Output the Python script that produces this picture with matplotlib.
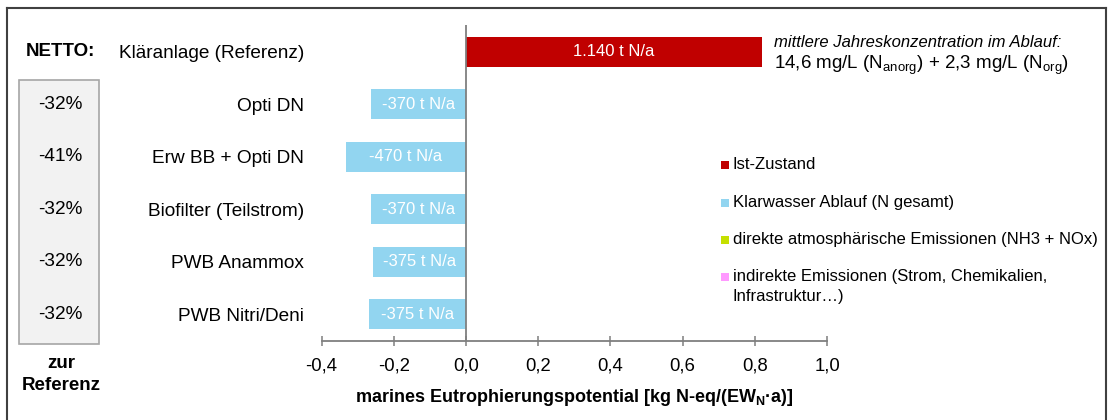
import numpy as np
import matplotlib
matplotlib.use("Agg")
import matplotlib.pyplot as plt
from matplotlib.patches import Rectangle
from matplotlib.lines import Line2D
from matplotlib.transforms import blended_transform_factory

plt.rcParams['font.family'] = ['Liberation Sans', 'DejaVu Sans']
plt.rcParams['mathtext.fontset'] = 'custom'
plt.rcParams['mathtext.rm'] = 'Liberation Sans'
plt.rcParams['mathtext.it'] = 'Liberation Sans:italic'
plt.rcParams['mathtext.bf'] = 'Liberation Sans:bold'

# data
categories = ['Kläranlage (Referenz)', 'Opti DN', 'Erw BB + Opti DN',
              'Biofilter (Teilstrom)', 'PWB Anammox', 'PWB Nitri/Deni']
values = [0.82, -0.262, -0.333, -0.263, -0.259, -0.27]
bar_labels = ['1.140 t N/a', '-370 t N/a', '-470 t N/a', '-370 t N/a',
              '-375 t N/a', '-375 t N/a']
netto = ['', '-32%', '-41%', '-32%', '-32%', '-32%']
xticks = [-0.4, -0.2, 0.0, 0.2, 0.4, 0.6, 0.8, 1.0]
legend_labels = ['Ist-Zustand', 'Klarwasser Ablauf (N gesamt)',
                 'direkte atmosphärische Emissionen (NH3 + NOx)',
                 'indirekte Emissionen (Strom, Chemikalien,\nInfrastruktur…)']
legend_colors = ['#C00000', '#92D5F0', '#C5E000', '#FF99FF']

W, H = 1108, 420
fig = plt.figure(figsize=(W / 100, H / 100), dpi=100)
ax = fig.add_axes([321.6 / W, (H - 340.7) / H, 505.4 / W, (340.7 - 25) / H])

colors = [legend_colors[0]] + [legend_colors[1]] * (len(values) - 1)
y = np.arange(len(categories))
bars = ax.barh(y, values, height=0.566, color=colors)
ax.bar_label(bars, labels=bar_labels, label_type='center', color='white', fontsize=12)

ax.set_xlim(-0.4, 1.0)
ax.set_ylim(5.505, -0.509)
ax.set_xticks(xticks)
ax.set_xticklabels([f'{t:.1f}'.replace('.', ',') for t in xticks], fontsize=13.3)
ax.set_yticks(y)
ax.set_yticklabels(categories, fontsize=13.7)
ax.tick_params(axis='y', length=0, pad=12.7)
ax.tick_params(axis='x', direction='inout', length=6.8, width=1.1, color='#7F7F7F', pad=9)
for s in ['top', 'right', 'left']:
    ax.spines[s].set_visible(False)
ax.spines['bottom'].set_color('#7F7F7F')
ax.spines['bottom'].set_linewidth(1.3)
ax.axvline(0, color='#7F7F7F', lw=1.3)
ax.set_xlabel(r'marines Eutrophierungspotential [kg N-eq/(EW$_\mathbf{N}$·a)]',
              fontsize=13, fontweight='bold', labelpad=9)

# left box with net change
fig.add_artist(Rectangle((19.3 / W, (H - 344) / H), 80 / W, 264 / H,
                         transform=fig.transFigure, facecolor='#F2F2F2',
                         edgecolor='#A6A6A6', lw=1.2, zorder=-1))
tr = blended_transform_factory(fig.transFigure, ax.transData)
for i, p in enumerate(netto):
    if p:
        ax.text(60 / W, i, p, transform=tr, ha='center', va='center', fontsize=13.7)
ax.text(60 / W, 0, 'NETTO:', transform=tr, ha='center', va='center',
        fontsize=13.5, fontweight='bold')
fig.text(61 / W, 1 - 363 / H, 'zur', ha='center', va='center', fontsize=13.5, fontweight='bold')
fig.text(61 / W, 1 - 386 / H, 'Referenz', ha='center', va='center', fontsize=13.5, fontweight='bold')

# annotation
fig.text(774 / W, 1 - 42.7 / H, 'mittlere Jahreskonzentration im Ablauf:',
         ha='left', va='center', fontsize=12, style='italic')
fig.text(774 / W, 1 - 65 / H,
         r'14,6 mg/L (N$_\mathregular{anorg}$) + 2,3 mg/L (N$_\mathregular{org}$)',
         ha='left', va='center', fontsize=13.5)

# legend
leg_y = [165, 203, 240, 277]
for lab, c, ly in zip(legend_labels, legend_colors, leg_y):
    fig.add_artist(Rectangle((721 / W, 1 - (ly + 4) / H), 8 / W, 8 / H,
                             transform=fig.transFigure, facecolor=c, edgecolor='none'))
    fig.text(733 / W, 1 - (ly - 8) / H, lab, ha='left', va='top', fontsize=12,
             linespacing=1.45)

# frame
for xs, ys in [([7, 7], [420, 8]), ([7, 1106], [8, 8]), ([1106, 1106], [8, 420])]:
    fig.add_artist(Line2D([v / W for v in xs], [1 - v / H for v in ys],
                          transform=fig.transFigure, color='#404040', lw=1.5))

fig.savefig('out.png', dpi=100)
